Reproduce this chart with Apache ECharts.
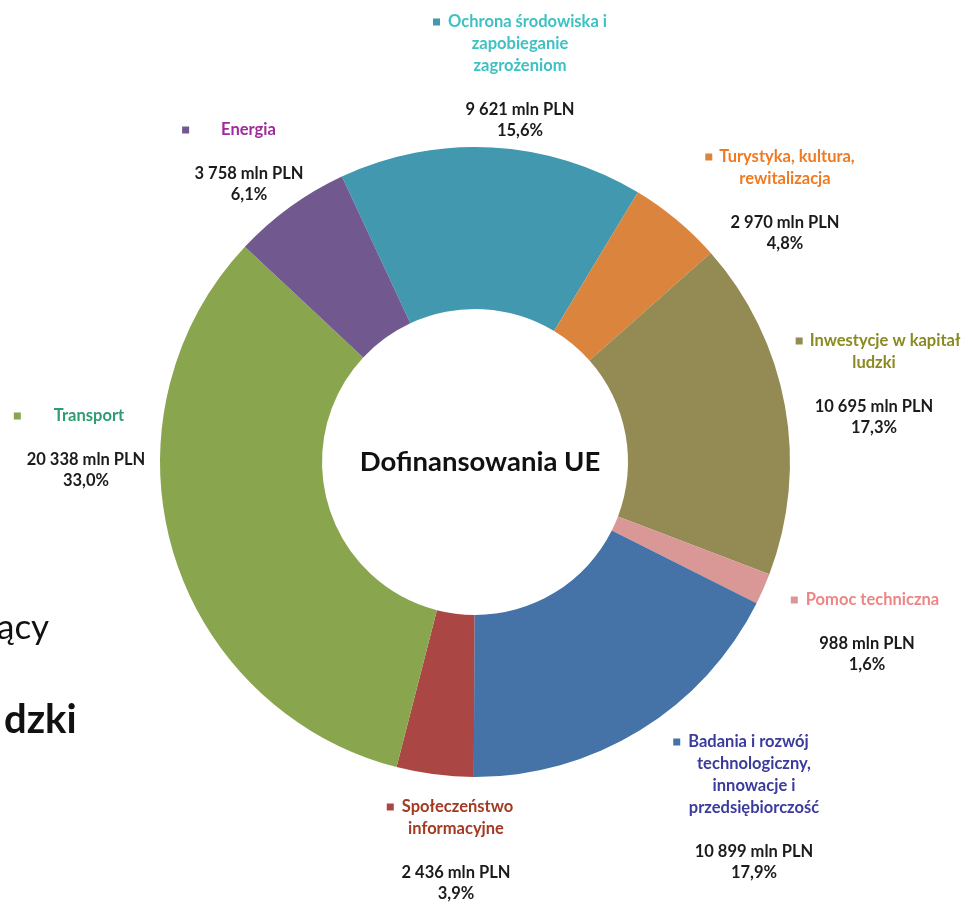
<!DOCTYPE html>
<html>
<head>
<meta charset="utf-8">
<script src="https://cdn.jsdelivr.net/npm/echarts@6/dist/echarts.min.js"></script>
<style>
html,body{margin:0;padding:0;background:#fff;}
#chart{width:965px;height:904px;}
</style>
</head>
<body>
<div id="chart"></div>
<script>
// ---- data ----
const categories = [
  'Ochrona środowiska i zapobieganie zagrożeniom',
  'Turystyka, kultura, rewitalizacja',
  'Inwestycje w kapitał ludzki',
  'Pomoc techniczna',
  'Badania i rozwój technologiczny, innowacje i przedsiębiorczość',
  'Społeczeństwo informacyjne',
  'Transport',
  'Energia'
];
const nameLines = [
  ['Ochrona środowiska i', 'zapobieganie', 'zagrożeniom'],
  ['Turystyka, kultura,', 'rewitalizacja'],
  ['Inwestycje w kapitał', 'ludzki'],
  ['Pomoc techniczna'],
  ['Badania i rozwój', 'technologiczny,', 'innowacje i', 'przedsiębiorczość'],
  ['Społeczeństwo', 'informacyjne'],
  ['Transport'],
  ['Energia']
];
const valuesMln = [9621, 2970, 10695, 988, 10899, 2436, 20338, 3758];
const valueLabels = ['9 621 mln PLN', '2 970 mln PLN', '10 695 mln PLN', '988 mln PLN', '10 899 mln PLN', '2 436 mln PLN', '20 338 mln PLN', '3 758 mln PLN'];
const percentLabels = ['15,6%', '4,8%', '17,3%', '1,6%', '17,9%', '3,9%', '33,0%', '6,1%'];
const centerTitle = 'Dofinansowania UE';
const strayTexts = ['ący', 'dzki'];

// ---- styles / layout ----
const sliceColors = ['#4198AF', '#DB843D', '#948A54', '#D99795', '#4572A7', '#AA4643', '#89A54E', '#71588F'];
const nameColors  = ['#3EC1C2', '#F07A22', '#8A8A22', '#EE8585', '#3B3B9C', '#A43A22', '#2F9C72', '#9E2A9C'];
const markerGaps  = [8, 7, 7, 8, 8, 8, 33, 32];
const leadPads    = [0, 0, 8, 0, 0, 0, 0, 0];
const trailPads   = [0, 10, 0, 4, 26, 12, 34, 40];
const labelAnchors = [ // [centerX, topY]
  [520, 11], [785, 146], [874, 330], [867, 589],
  [754, 731], [456, 796], [86, 405], [249, 119]
];
const FS = 16.5;

const rich = {
  v: {color: '#1b1b1b', fontWeight: 'bold', fontSize: FS, lineHeight: 21, fontFamily: 'Lato'},
  sp: {lineHeight: 22, fontSize: 10}
};
categories.forEach((c, i) => {
  rich['sq' + i] = {width: 7, height: 7, backgroundColor: sliceColors[i]};
  rich['g' + i] = {width: markerGaps[i]};
  rich['l' + i] = {width: leadPads[i]};
  rich['t' + i] = {width: trailPads[i]};
  rich['n' + i] = {color: nameColors[i], fontWeight: 'bold', fontSize: FS, lineHeight: 22, fontFamily: 'Lato'};
});

const chart = echarts.init(document.getElementById('chart'));
chart.setOption({
  backgroundColor: '#ffffff',
  animation: false,
  textStyle: {fontFamily: 'Lato'},
  graphic: [
    {type: 'text', x: -3, y: 610, style: {text: strayTexts[0], font: '35px Lato', fill: '#111'}},
    {type: 'text', x: 4, y: 700, style: {text: strayTexts[1], font: 'bold 40px Lato', fill: '#111'}},
    {type: 'text', x: 480, y: 462, z: 10,
      style: {text: centerTitle, font: 'bold 27.5px Lato', fill: '#111', align: 'center', verticalAlign: 'middle'}}
  ],
  series: [{
    type: 'pie',
    center: [475, 462],
    radius: [153, 315],
    startAngle: 115,
    clockwise: true,
    avoidLabelOverlap: false,
    data: categories.map((c, i) => ({name: c, value: valuesMln[i], itemStyle: {color: sliceColors[i]}})),
    labelLine: {show: false},
    label: {
      show: true,
      position: 'outside',
      align: 'center',
      formatter: function (p) {
        const i = p.dataIndex;
        const lines = nameLines[i];
        let s = (leadPads[i] ? '{l' + i + '|}' : '') + '{sq' + i + '|}{g' + i + '|}{n' + i + '|' + lines[0] + '}' + (trailPads[i] ? '{t' + i + '|}' : '');
        for (let k = 1; k < lines.length; k++) s += '\n{n' + i + '|' + lines[k] + '}';
        s += '\n{sp|}\n{v|' + valueLabels[i] + '}\n{v|' + percentLabels[i] + '}';
        return s;
      },
      rich: rich
    },
    labelLayout: function (params) {
      const a = labelAnchors[params.dataIndex];
      return {x: a[0], y: a[1], align: 'center', verticalAlign: 'top', hideOverlap: false};
    },
    emphasis: {disabled: true}
  }]
});
</script>
</body>
</html>
